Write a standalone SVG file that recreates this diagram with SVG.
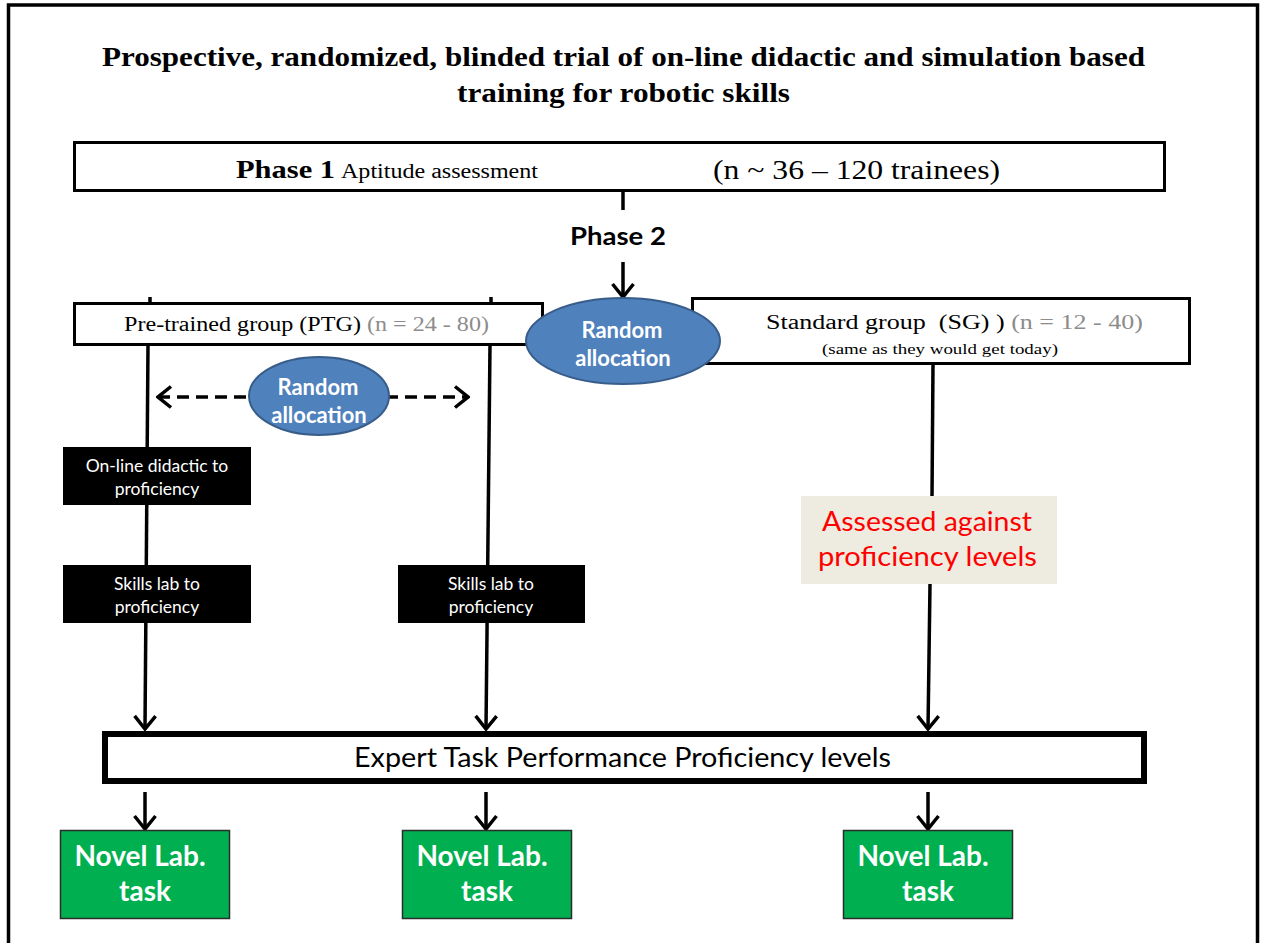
<svg xmlns="http://www.w3.org/2000/svg" width="1261" height="943" viewBox="0 0 1261 943">
<style>
.serif{font-family:"Liberation Serif","Times New Roman",serif}
.sans{font-family:Lato,"Open Sans","Liberation Sans",sans-serif}
.box{fill:#fff;stroke:#000;stroke-width:3}
.blk{fill:#000}
.wt{fill:#fff;font-size:17.5px}
.green{fill:#00B050;stroke:#2b2b2b;stroke-width:1.5}
.gt{fill:#fff;font-size:28px;font-weight:bold}
.ell{fill:#4F81BD;stroke:#385D8A;stroke-width:2}
.et{fill:#fff;font-weight:bold}
.ln{stroke:#000;stroke-width:3.5;fill:none}
.gray{fill:#8c8c8c}
</style>
<defs>
<marker id="ah" viewBox="0 0 22 24" refX="20" refY="12" markerWidth="22" markerHeight="24" markerUnits="userSpaceOnUse" orient="auto-start-reverse">
<path d="M7,1.5 L20,12 L7,22.5" fill="none" stroke="#000" stroke-width="3.5"/>
</marker>
</defs>
<rect x="0" y="0" width="1261" height="943" fill="#fff"/>
<path d="M8.5,950 L8.5,5 L1257.5,5 L1257.5,950" fill="none" stroke="#000" stroke-width="3.5"/>

<g id="title" class="serif" font-weight="bold" font-size="27">
<text x="102" y="66" textLength="1043" lengthAdjust="spacingAndGlyphs">Prospective, randomized, blinded trial of on-line didactic and simulation based</text>
<text x="457" y="102" textLength="333" lengthAdjust="spacingAndGlyphs">training for robotic skills</text>
</g>

<g id="connectors">
<line class="ln" x1="623" y1="191" x2="623" y2="210"/>
<line class="ln" x1="623" y1="262" x2="623" y2="297" marker-end="url(#ah)"/>
<line class="ln" x1="150" y1="297" x2="150" y2="304"/>
<line class="ln" x1="491" y1="297" x2="491" y2="304"/>
<line class="ln" x1="933" y1="297" x2="933" y2="299"/>
<line class="ln" x1="148" y1="345" x2="145" y2="729" marker-end="url(#ah)"/>
<line class="ln" x1="490" y1="345" x2="486" y2="729" marker-end="url(#ah)"/>
<line class="ln" x1="933" y1="364" x2="932" y2="497"/>
<line class="ln" x1="930" y1="584" x2="928" y2="729" marker-end="url(#ah)"/>
<line class="ln" x1="145" y1="792" x2="145" y2="829" marker-end="url(#ah)"/>
<line class="ln" x1="486" y1="792" x2="486" y2="829" marker-end="url(#ah)"/>
<line class="ln" x1="928" y1="792" x2="928" y2="829" marker-end="url(#ah)"/>
<line class="ln" x1="158" y1="397" x2="468" y2="397" stroke-dasharray="12,7" marker-start="url(#ah)" marker-end="url(#ah)"/>
</g>

<g id="phase1">
<rect class="box" x="74.5" y="142.5" width="1090" height="48"/>
<text class="serif" x="236" y="178" font-weight="bold" font-size="26" textLength="99" lengthAdjust="spacingAndGlyphs">Phase 1</text>
<text class="serif" x="341" y="178" font-size="20" textLength="197" lengthAdjust="spacingAndGlyphs">Aptitude assessment</text>
<text class="serif" x="713" y="179" font-size="27" textLength="287" lengthAdjust="spacingAndGlyphs">(n ~ 36 – 120 trainees)</text>
</g>

<g id="phase2">
<text class="sans" x="570" y="245" font-size="24" font-weight="bold" textLength="96" lengthAdjust="spacingAndGlyphs">Phase 2</text>
</g>

<g id="ptg">
<rect class="box" x="74.5" y="303.5" width="468" height="41"/>
<text class="serif" x="124" y="331" font-size="20" textLength="365" lengthAdjust="spacingAndGlyphs">Pre-trained group (PTG) <tspan class="gray">(n = 24 - 80)</tspan></text>
</g>

<g id="sg">
<rect class="box" x="692.5" y="298.5" width="497" height="65"/>
<text class="serif" x="766" y="329" font-size="20" textLength="377" lengthAdjust="spacingAndGlyphs">Standard group &#160;(SG) ) <tspan class="gray">(n = 12 - 40)</tspan></text>
<text class="serif" x="822" y="354" font-size="15" textLength="236" lengthAdjust="spacingAndGlyphs">(same as they would get today)</text>
</g>

<g id="random1">
<ellipse class="ell" cx="623" cy="341" rx="97" ry="43"/>
<text class="sans et" font-size="22" text-anchor="middle"><tspan x="622" y="338">Random</tspan><tspan x="623" y="366">allocation</tspan></text>
</g>

<g id="random2">
<ellipse class="ell" cx="319" cy="396" rx="70" ry="39"/>
<text class="sans et" font-size="22" text-anchor="middle"><tspan x="318" y="395">Random</tspan><tspan x="319" y="423">allocation</tspan></text>
</g>

<g id="online">
<rect class="blk" x="63" y="447" width="188" height="58"/>
<text class="sans wt" text-anchor="middle"><tspan x="157" y="472">On-line didactic to</tspan><tspan x="157" y="495">proficiency</tspan></text>
</g>

<g id="skills1">
<rect class="blk" x="63" y="565" width="188" height="58"/>
<text class="sans wt" text-anchor="middle"><tspan x="157" y="590">Skills lab to</tspan><tspan x="157" y="613">proficiency</tspan></text>
</g>

<g id="skills2">
<rect class="blk" x="398" y="565" width="187" height="58"/>
<text class="sans wt" text-anchor="middle"><tspan x="491" y="590">Skills lab to</tspan><tspan x="491" y="613">proficiency</tspan></text>
</g>

<g id="assessed">
<rect x="801" y="496" width="256" height="88" fill="#EEECE1"/>
<text class="sans" fill="#ff0000" font-size="27"><tspan x="822" y="531" textLength="210" lengthAdjust="spacingAndGlyphs">Assessed against</tspan><tspan x="818" y="566" textLength="219" lengthAdjust="spacingAndGlyphs">proficiency levels</tspan></text>
</g>

<g id="expert">
<rect x="105" y="734" width="1039" height="47" fill="#fff" stroke="#000" stroke-width="6"/>
<text class="sans" x="354" y="767" font-size="26" textLength="537" lengthAdjust="spacingAndGlyphs">Expert Task Performance Proficiency levels</text>
</g>

<g id="novel1">
<rect class="green" x="60.5" y="830.5" width="169" height="88"/>
<text class="sans gt" text-anchor="middle"><tspan x="140" y="866">Novel Lab.</tspan><tspan x="145" y="901">task</tspan></text>
</g>
<g id="novel2">
<rect class="green" x="402.5" y="830.5" width="169" height="88"/>
<text class="sans gt" text-anchor="middle"><tspan x="482" y="866">Novel Lab.</tspan><tspan x="487" y="901">task</tspan></text>
</g>
<g id="novel3">
<rect class="green" x="843.5" y="830.5" width="169" height="88"/>
<text class="sans gt" text-anchor="middle"><tspan x="923" y="866">Novel Lab.</tspan><tspan x="928" y="901">task</tspan></text>
</g>
</svg>
